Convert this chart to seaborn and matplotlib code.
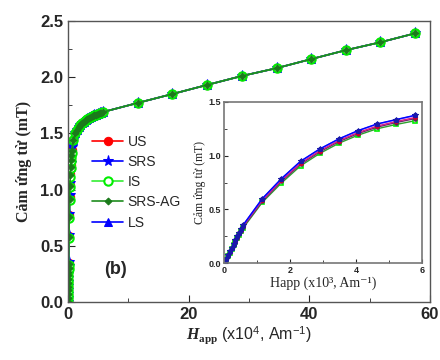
import numpy as np
import matplotlib
matplotlib.use('Agg')
import matplotlib.pyplot as plt
import seaborn as sns
from matplotlib.ticker import MultipleLocator

# Applied field, x10^4 A/m
H_low = [0, 0.0058, 0.0116, 0.0174, 0.0232, 0.029, 0.0348, 0.0406, 0.0464, 0.0522,
         0.058, 0.116, 0.174, 0.232, 0.29, 0.348, 0.406, 0.464, 0.522, 0.58]
H_high = [0.87, 1.16, 1.45, 1.74, 2.03, 2.32, 2.61, 2.9, 3.19, 3.48, 3.77, 4.06,
          4.35, 4.64, 4.93, 5.22, 5.51, 5.8,
          11.5, 17.3, 23.0, 28.8, 34.6, 40.3, 46.1, 51.8, 57.6]
B_high = [1.44, 1.50, 1.53, 1.555, 1.575, 1.59, 1.605, 1.615, 1.625, 1.635, 1.645, 1.65,
          1.66, 1.665, 1.67, 1.68, 1.685, 1.69,
          1.77, 1.85, 1.93, 2.01, 2.08, 2.16, 2.24, 2.31, 2.39]

# Induction (mT) at low field, per sample
B_US = [0, 0.038, 0.072, 0.106, 0.14, 0.174, 0.208, 0.242, 0.276, 0.31,
        0.345, 0.585, 0.77, 0.93, 1.045, 1.14, 1.215, 1.275, 1.318, 1.355]
B_SRS = [0, 0.04, 0.075, 0.11, 0.145, 0.18, 0.215, 0.25, 0.285, 0.32,
         0.354, 0.60, 0.786, 0.948, 1.062, 1.156, 1.233, 1.295, 1.336, 1.376]
B_IS = [0, 0.033, 0.066, 0.099, 0.132, 0.165, 0.198, 0.231, 0.264, 0.297,
        0.326, 0.565, 0.745, 0.905, 1.02, 1.115, 1.19, 1.25, 1.29, 1.325]
B_AG = [0, 0.036, 0.07, 0.103, 0.137, 0.17, 0.203, 0.236, 0.27, 0.303,
        0.336, 0.575, 0.76, 0.92, 1.035, 1.13, 1.205, 1.265, 1.308, 1.345]
B_LS = [0, 0.04, 0.075, 0.11, 0.145, 0.18, 0.215, 0.25, 0.285, 0.32,
        0.354, 0.598, 0.785, 0.946, 1.06, 1.154, 1.231, 1.293, 1.334, 1.374]

labels = ['US', 'SRS', 'IS', 'SRS-AG', 'LS']

sns.set_style('ticks')
plt.rcParams['font.family'] = ['Liberation Sans', 'DejaVu Sans']
plt.rcParams['mathtext.fontset'] = 'custom'
plt.rcParams['mathtext.rm'] = 'Liberation Sans'
plt.rcParams['mathtext.it'] = 'Liberation Serif:italic:bold'
plt.rcParams['mathtext.bf'] = 'Liberation Serif:bold'
plt.rcParams['xtick.direction'] = 'in'
plt.rcParams['ytick.direction'] = 'in'

fig = plt.figure(figsize=(4.4, 3.6), dpi=100)
ax = fig.add_axes([0.155, 0.161, 0.822, 0.781])

styles = {
    'US': dict(color='red', marker='o', markersize=6, mfc='red', mec='red'),
    'SRS': dict(color='blue', marker='*', markersize=8, mfc='blue', mec='blue'),
    'LS': dict(color='blue', marker='^', markersize=6, mfc='blue', mec='blue'),
    'IS': dict(color='#33ee33', marker='o', markersize=6, mfc='white', mec='#00ee00', mew=1.5),
    'SRS-AG': dict(color='#1e8c1e', marker='D', markersize=3.5, mfc='#1a7a1a', mec='#1a7a1a'),
}
lows = {'US': B_US, 'SRS': B_SRS, 'IS': B_IS, 'SRS-AG': B_AG, 'LS': B_LS}

handles = {}
for name in ['US', 'SRS', 'LS', 'IS', 'SRS-AG']:
    x = np.array(H_low + H_high)
    y = np.array(lows[name] + B_high)
    sns.lineplot(x=x, y=y, ax=ax, sort=False, lw=1.2, label=name, **styles[name])
    handles[name] = ax.lines[-1]
if ax.get_legend():
    ax.get_legend().remove()

ax.set_xlim(0, 60)
ax.set_ylim(0, 2.5)
ax.xaxis.set_major_locator(MultipleLocator(20))
ax.xaxis.set_minor_locator(MultipleLocator(10))
ax.yaxis.set_major_locator(MultipleLocator(0.5))
ax.yaxis.set_minor_locator(MultipleLocator(0.25))
ax.set_yticklabels([f'{v:.1f}' for v in ax.get_yticks()])
ax.tick_params(which='major', length=5, labelsize=12, top=False, right=False)
ax.tick_params(which='minor', length=3)
for lab in ax.get_xticklabels() + ax.get_yticklabels():
    lab.set_fontweight('bold')
for s in ax.spines.values():
    s.set_color('#555555')
    s.set_linewidth(1.0)

ax.set_xlabel(r'$\mathit{H}_{\mathbf{app}}$ (x10$^{4}$, Am$^{-1}$)', fontsize=11.5, labelpad=2)
ax.set_ylabel('Cảm ứng từ (mT)', fontsize=11.5, fontweight='bold',
              family=['Liberation Serif', 'DejaVu Serif'], labelpad=6)

ax.legend([handles[n] for n in labels], labels, loc='upper left',
          bbox_to_anchor=(0.03, 0.64), frameon=False, fontsize=10,
          handlelength=2.3, labelspacing=0.45, handletextpad=0.3)
ax.text(0.13, 0.115, '(b)', transform=ax.transAxes, fontsize=13,
        fontweight='bold', ha='center', va='center')

# Inset: low field region, x10^3 A/m
ins = fig.add_axes([0.509, 0.269, 0.45, 0.448])
inset_styles = {
    'US': dict(color='#dd1a8a', marker='o', markersize=3, mfc='#cc0033', mec='#cc0033'),
    'SRS-AG': dict(color='#6a2a6a', marker='o', markersize=2.5, mfc='#552255', mec='#552255'),
    'IS': dict(color='#2ca02c', marker='s', markersize=3.5, mfc='white', mec='#00ee00', mew=1.2),
    'LS': dict(color='#5555ff', marker='o', markersize=3, mfc='#1a1aaa', mec='#1a1aaa'),
    'SRS': dict(color='blue', marker='*', markersize=4, mfc='#1a1aaa', mec='#1a1aaa'),
}
for name in ['IS', 'SRS-AG', 'US', 'LS', 'SRS']:
    xi = np.array(H_low) * 10
    sns.lineplot(x=xi, y=np.array(lows[name]), ax=ins, sort=False, lw=1.0, **inset_styles[name])
ins.set_xlim(0, 6)
ins.set_ylim(0, 1.5)
ins.xaxis.set_major_locator(MultipleLocator(2))
ins.xaxis.set_minor_locator(MultipleLocator(1))
ins.yaxis.set_major_locator(MultipleLocator(0.5))
ins.yaxis.set_minor_locator(MultipleLocator(0.25))
ins.set_yticklabels([f'{v:.1f}' for v in ins.get_yticks()])
ins.tick_params(which='major', length=3, labelsize=6.5, pad=2)
ins.tick_params(which='minor', length=2)
for lab in ins.get_xticklabels() + ins.get_yticklabels():
    lab.set_fontweight('bold')
for s in ins.spines.values():
    s.set_color('#777777')
    s.set_linewidth(1.2)
ins.set_xlabel('Happ (x10³, Am⁻¹)', fontsize=10, family=['Liberation Serif', 'DejaVu Serif'], labelpad=1)
ins.set_ylabel('Cảm ứng từ (mT)', fontsize=8.5, family=['Liberation Serif', 'DejaVu Serif'], labelpad=2)

fig.savefig('out.png', dpi=100)
